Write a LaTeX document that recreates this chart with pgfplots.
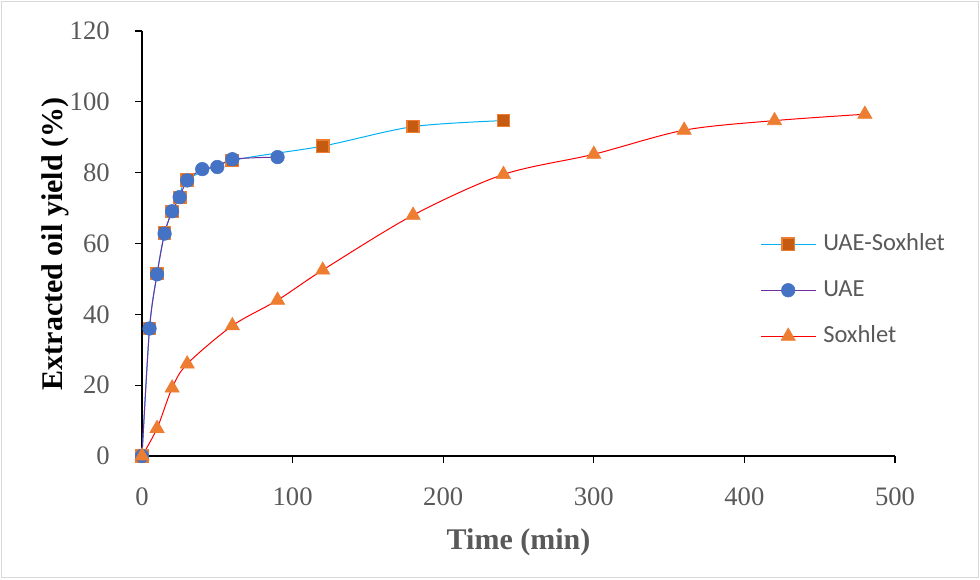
\documentclass[border=0pt]{standalone}
\usepackage{pgfplots}
\pgfplotsset{compat=1.18}
\usepackage{fontspec}
\setmainfont{Liberation Serif}
\newfontfamily\legfont{Carlito}
\definecolor{tickgray}{HTML}{595959}
\definecolor{frame}{HTML}{D9D9D9}
\definecolor{sqfill}{HTML}{C55A11}
\definecolor{orng}{HTML}{ED7D31}
\definecolor{blu}{HTML}{4472C4}
\definecolor{lblue}{HTML}{00B0F0}
\definecolor{purp}{HTML}{7030A0}
\definecolor{redl}{HTML}{FF0000}
\begin{document}
\begin{tikzpicture}[x=0.75pt,y=0.75pt]
\useasboundingbox (0,0) rectangle (980,579);
\draw[frame, line width=1.1pt] (1.5,1.5) rectangle (978.5,577.5);
\begin{axis}[
  at={(106.5pt,92.25pt)}, anchor=origin,
  scale only axis, width=564.75pt, height=318.75pt,
  xmin=0, xmax=500, ymin=0, ymax=120,
  axis x line*=bottom, axis y line*=left,
  axis line style={black, line width=1.1pt},
  xtick={0,100,...,500}, ytick={0,20,...,120},
  tick align=outside, major tick length=5.25pt,
  tick style={black, line width=1pt},
  minor tick num=0,
  /pgf/number format/assume math mode=true,
  ticklabel style={font=\fontsize{20}{21}\selectfont, text=tickgray, inner sep=0pt},
  yticklabel style={anchor=east, xshift=-18.75pt},
  xticklabel style={anchor=north, yshift=-18pt},
  xlabel={\textbf{Time (min)}},
  ylabel={\textbf{Extracted oil yield (\%)}},
  x label style={at={(axis description cs:0.5,-0.221)}, anchor=base, font=\fontsize{22.5}{24}\selectfont, text=tickgray, inner sep=0pt},
  y label style={at={(axis description cs:-0.1062,0.499)}, anchor=base, rotate=0, font=\fontsize{22.5}{24}\selectfont, text=black, inner sep=0pt},
  clip=false,
  legend cell align=left,
  legend style={at={(axis description cs:0.8207,0.5224)}, anchor=north west, draw=none, fill=none,
    inner sep=0pt, row sep=19.5pt, column sep=5.25pt,
    font=\legfont\fontsize{18.4}{20}\selectfont, text=tickgray,
    nodes={inner sep=0pt, text height=12pt, text depth=3pt}},
  legend image code/.code={\draw[mark repeat=2,mark phase=2] plot coordinates {(0pt,0pt) (20.6pt,0pt) (41.25pt,0pt)};},
]
\addplot[lblue, line width=0.75pt, smooth, mark=square*, mark size=4.6pt,
  mark options={fill=sqfill, draw=orng, line width=1.1pt, solid}]
  coordinates {(0,0) (5,36) (10,51.5) (15,63) (20,69) (25,73) (30,78) (60,83.4) (120,87.5) (180,93) (240,94.7)};
\addlegendentry{UAE-Soxhlet}
\addplot[purp, line width=0.75pt, smooth, mark=*, mark size=5.1pt,
  mark options={fill=blu, draw=blu, line width=0.4pt, solid}]
  coordinates {(0,0) (5,36) (10,51.3) (15,62.8) (20,69.1) (25,73.1) (30,77.8) (40,81) (50,81.6) (60,83.8) (90,84.4)};
\addlegendentry{UAE}
\addplot[redl, line width=0.75pt, smooth, mark=triangle*, mark size=6.2pt,
  mark options={fill=orng, draw=orng, line width=0.4pt, solid}]
  coordinates {(0,0) (10,7.8) (20,19.2) (30,26) (60,36.8) (90,44) (120,52.5) (180,68) (240,79.5) (300,85.2) (360,92) (420,94.7) (480,96.5)};
\addlegendentry{Soxhlet}
\end{axis}
\end{tikzpicture}
\end{document}
